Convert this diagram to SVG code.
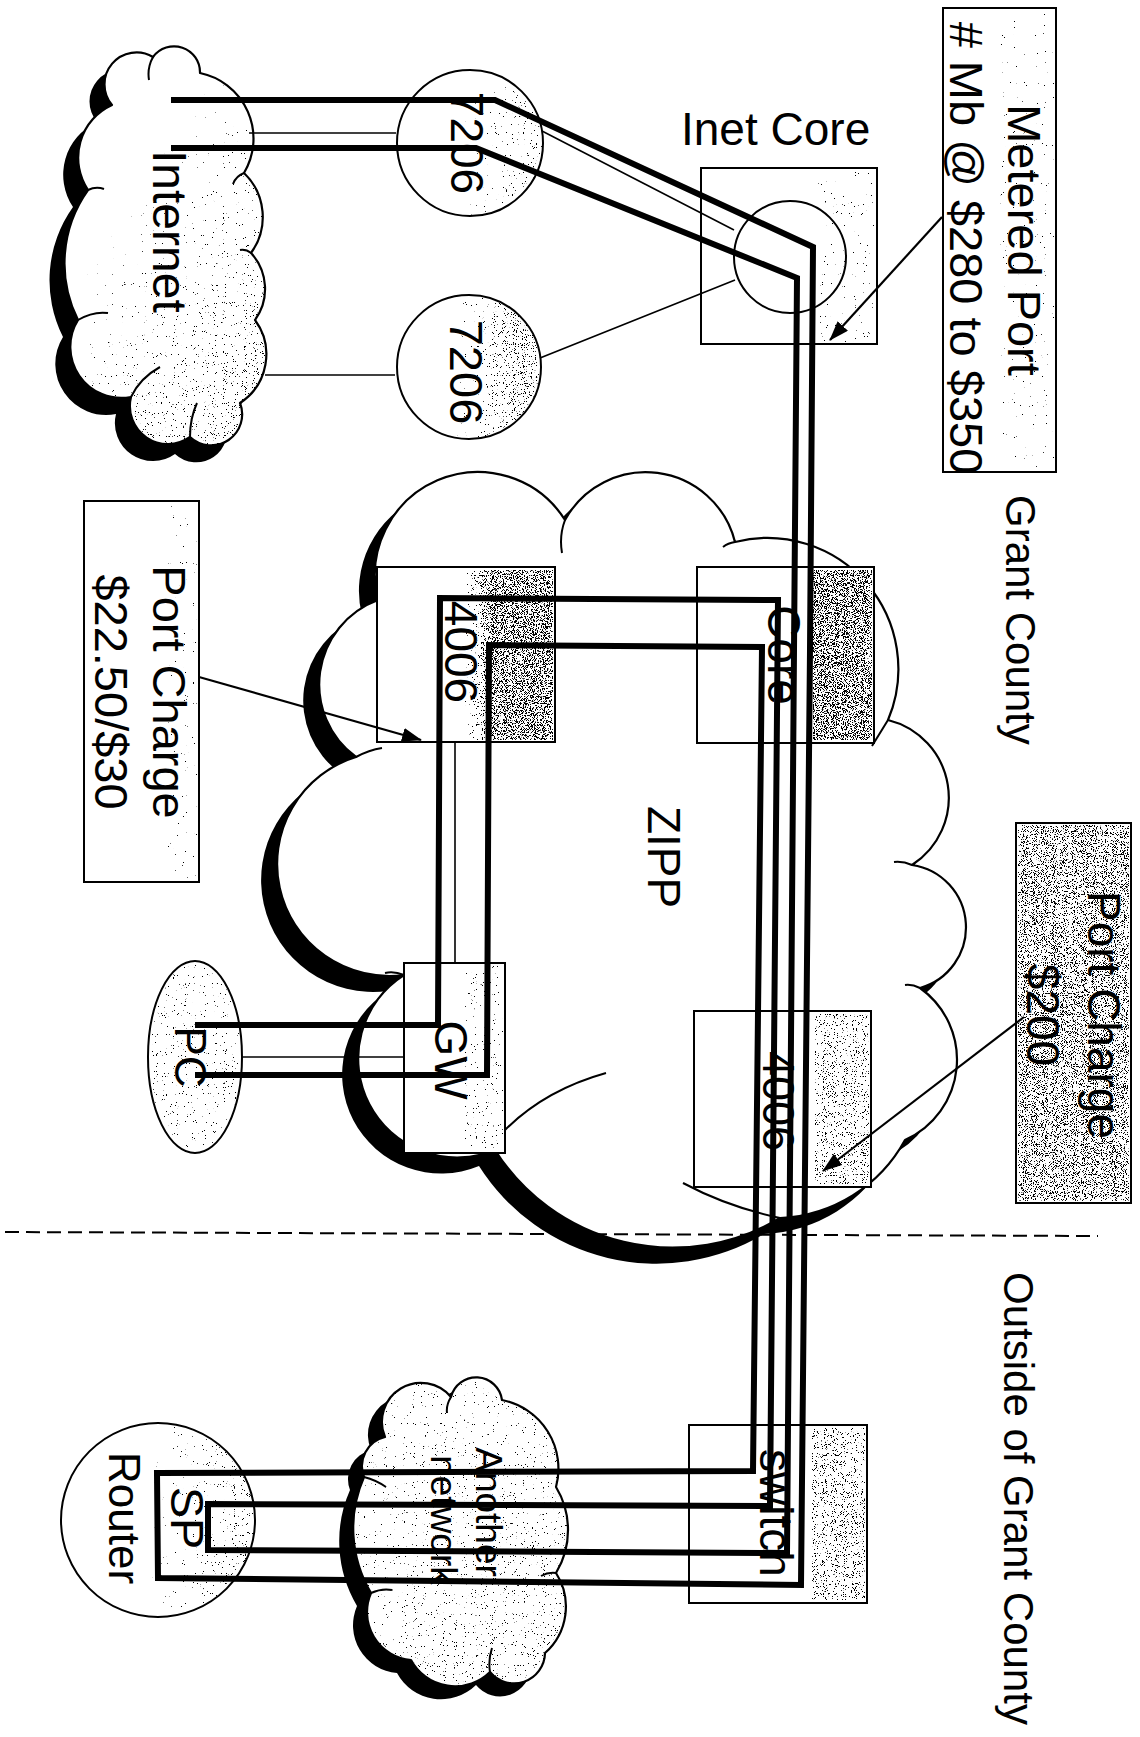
<svg xmlns="http://www.w3.org/2000/svg" width="1140" height="1737" viewBox="0 0 1140 1737">
<defs>
<style>
.t{font-family:"Liberation Sans",Arial,Helvetica,sans-serif;fill:#000}
.bx{fill:#fff;stroke:#000;stroke-width:2}
.cl{fill:#fff;stroke:#000;stroke-width:2.2;stroke-linejoin:round}
.sh{fill:#000}
.hk{fill:none;stroke:#000;stroke-width:2}
.tk{fill:none;stroke:#000;stroke-width:6;stroke-linejoin:miter}
.tn{fill:none;stroke:#000;stroke-width:1.6}
.ar{fill:none;stroke:#000;stroke-width:2.2;marker-end:url(#ah)}
.dash{fill:none;stroke:#000;stroke-width:2;stroke-dasharray:14 7}
</style>
<filter id="stip" x="0" y="0" width="1" height="1" color-interpolation-filters="sRGB">
<feTurbulence type="fractalNoise" baseFrequency="1.1" numOctaves="2" seed="4" result="t"/>
<feColorMatrix in="t" type="matrix" values="0 0 0 0 0  0 0 0 0 0  0 0 0 0 0  1.667 0 0 0 -0.333" result="n"/>
<feComposite in="SourceGraphic" in2="n" operator="arithmetic" k1="0" k2="20" k3="-20" k4="0"/>
</filter>
<linearGradient id="gR" x1="0" y1="0" x2="1" y2="0"><stop offset="0.45" stop-opacity="0"/><stop offset="1" stop-opacity="0.2"/></linearGradient>
<linearGradient id="gR2" x1="0" y1="0" x2="1" y2="0"><stop offset="0.4" stop-opacity="0"/><stop offset="0.85" stop-opacity="0.3"/><stop offset="1" stop-opacity="0.26"/></linearGradient>
<linearGradient id="gInt" x1="0.5" y1="0.25" x2="1" y2="0.9"><stop offset="0" stop-opacity="0"/><stop offset="1" stop-opacity="0.24"/></linearGradient>
<linearGradient id="g4006" x1="0" y1="0" x2="1" y2="0"><stop offset="0" stop-opacity="0.08"/><stop offset="0.3" stop-opacity="0.45"/><stop offset="1" stop-opacity="0.45"/></linearGradient>
<linearGradient id="gAn" x1="0" y1="0" x2="1" y2="1"><stop offset="0" stop-opacity="0.08"/><stop offset="1" stop-opacity="0.18"/></linearGradient>
<clipPath id="cMet"><rect x="943" y="8" width="113" height="464"/></clipPath>
<marker id="ah" viewBox="0 0 20 14" refX="19" refY="7" markerWidth="20" markerHeight="14" markerUnits="userSpaceOnUse" orient="auto"><path d="M0,0 L20,7 L0,14 z" fill="#000"/></marker>
</defs>
<rect width="1140" height="1737" fill="#fff"/>

<g id="internet">
<path class="sh" transform="translate(-15,17)" d="M112,105 A32,32 0 0 1 153,57 A26,26 0 0 1 200,73 A67,67 0 0 1 244,173 A61,61 0 0 1 251,253 A53,53 0 0 1 255,320 A58,58 0 0 1 240,403 A31,31 0 0 1 190,437 A38,38 0 0 1 131,397 A51,51 0 0 1 78,320 A126,126 0 0 1 88,190 A58,58 0 0 1 112,105 Z"/>
<path class="cl" d="M112,105 A32,32 0 0 1 153,57 A26,26 0 0 1 200,73 A67,67 0 0 1 244,173 A61,61 0 0 1 251,253 A53,53 0 0 1 255,320 A58,58 0 0 1 240,403 A31,31 0 0 1 190,437 A38,38 0 0 1 131,397 A51,51 0 0 1 78,320 A126,126 0 0 1 88,190 A58,58 0 0 1 112,105 Z"/>
<path fill="url(#gInt)" filter="url(#stip)" d="M112,105 A32,32 0 0 1 153,57 A26,26 0 0 1 200,73 A67,67 0 0 1 244,173 A61,61 0 0 1 251,253 A53,53 0 0 1 255,320 A58,58 0 0 1 240,403 A31,31 0 0 1 190,437 A38,38 0 0 1 131,397 A51,51 0 0 1 78,320 A126,126 0 0 1 88,190 A58,58 0 0 1 112,105 Z"/>
<path class="hk" d="M153,57 Q147,68 149,80 M88,190 Q96,186 104,189 M78,320 Q93,311 108,313 M131,397 Q140,378 160,367 M190,437 Q190,418 197,403 M244,173 Q236,176 233,184 M251,253 Q246,249 240,250"/>
<text class="t" font-size="48" transform="translate(153,150) rotate(90)">Internet</text>
</g>

<g id="r7206a">
<circle class="bx" cx="470" cy="143" r="73"/>
<circle cx="470" cy="143" r="72" fill="url(#gR)" filter="url(#stip)"/>
<text class="t" font-size="46" text-anchor="middle" transform="translate(451,143) rotate(90)">7206</text>
</g>

<g id="r7206b">
<circle class="bx" cx="469" cy="367" r="72"/>
<circle cx="469" cy="367" r="71" fill="url(#gR2)" filter="url(#stip)"/>
<text class="t" font-size="47" text-anchor="middle" transform="translate(450,372) rotate(90)">7206</text>
</g>

<g id="inetcore">
<rect class="bx" x="701" y="168" width="176" height="176"/>
<rect x="818" y="172" width="56" height="170" fill="#000" fill-opacity="0.08" filter="url(#stip)"/>
<circle cx="790" cy="257" r="56" fill="none" stroke="#000" stroke-width="2"/>
<text class="t" font-size="46" x="681" y="145">Inet Core</text>
</g>

<g id="metered">
<rect class="bx" x="943" y="8" width="113" height="464"/>
<rect x="1000" y="12" width="54" height="456" fill="#000" fill-opacity="0.05" filter="url(#stip)"/>
<g clip-path="url(#cMet)">
<text class="t" font-size="47" text-anchor="middle" transform="translate(1008,240) rotate(90)">Metered Port</text>
<text class="t" font-size="47" text-anchor="middle" transform="translate(950,248) rotate(90)"># Mb @ $280 to $350</text>
</g>
</g>

<g id="grant">
<text class="t" font-size="42" transform="translate(1006,495) rotate(90)">Grant County</text>
</g>

<g id="zipp">
<path class="sh" transform="translate(-16,16)" d="M378,600 A103,103 0 0 1 565,520 A92,92 0 0 1 735,542 A131,131 0 0 1 888,720 A80,80 0 0 1 912,865 A63,63 0 0 1 920,988 A88,88 0 0 1 905,1140 A150,150 0 0 1 780,1218 A210,210 0 0 1 495,1150 A99,99 0 0 1 404,975 A112,112 0 0 1 356,757 A90,90 0 0 1 378,600 Z"/>
<path class="cl" d="M378,600 A103,103 0 0 1 565,520 A92,92 0 0 1 735,542 A131,131 0 0 1 888,720 A80,80 0 0 1 912,865 A63,63 0 0 1 920,988 A88,88 0 0 1 905,1140 A150,150 0 0 1 780,1218 A210,210 0 0 1 495,1150 A99,99 0 0 1 404,975 A112,112 0 0 1 356,757 A90,90 0 0 1 378,600 Z"/>
<path class="hk" d="M565,520 Q559,536 562,553 M735,542 Q728,543 723,547 M888,720 Q880,733 872,746 M912,865 Q903,861 894,862 M920,988 Q912,984 905,985 M505,1130 Q545,1090 606,1073 M780,1218 Q728,1207 683,1183 M356,757 Q369,750 382,748 M404,975 Q394,971 385,973"/>
<text class="t" font-size="46" text-anchor="middle" transform="translate(648,857) rotate(90)">ZIPP</text>
</g>

<g id="n4006a">
<rect class="bx" x="377" y="567" width="178" height="175"/>
<rect x="465" y="570" width="88" height="170" fill="url(#g4006)" filter="url(#stip)"/>
<text class="t" font-size="46" text-anchor="middle" transform="translate(445,652) rotate(90)">4006</text>
</g>

<g id="core">
<rect class="bx" x="697" y="567" width="177" height="176"/>
<rect x="813" y="570" width="59" height="170" fill="#000" fill-opacity="0.46" filter="url(#stip)"/>
<text class="t" font-size="46" text-anchor="middle" transform="translate(768,655) rotate(90)">Core</text>
</g>

<g id="gw">
<rect class="bx" x="404" y="963" width="101" height="190"/>
<rect x="465" y="966" width="38" height="184" fill="#000" fill-opacity="0.12" filter="url(#stip)"/>
<text class="t" font-size="46" text-anchor="middle" transform="translate(435,1060) rotate(90)">GW</text>
</g>

<g id="pc">
<ellipse class="bx" cx="195" cy="1057" rx="47" ry="96"/>
<ellipse cx="195" cy="1057" rx="46" ry="95" fill="#000" fill-opacity="0.13" filter="url(#stip)"/>
<text class="t" font-size="44" text-anchor="middle" transform="translate(175,1057) rotate(90)">PC</text>
</g>

<g id="n4006b">
<rect class="bx" x="694" y="1011" width="177" height="176"/>
<rect x="815" y="1014" width="54" height="170" fill="#000" fill-opacity="0.26" filter="url(#stip)"/>
<text class="t" font-size="45" text-anchor="middle" transform="translate(763,1101) rotate(90)">4006</text>
</g>

<g id="pc2250">
<rect class="bx" x="84" y="501" width="115" height="381"/>
<rect x="168" y="505" width="29" height="373" fill="#000" fill-opacity="0.05" filter="url(#stip)"/>
<text class="t" font-size="47" text-anchor="middle" transform="translate(153,692) rotate(90)">Port Charge</text>
<text class="t" font-size="47" text-anchor="middle" transform="translate(95,692) rotate(90)">$22.50/$30</text>
</g>

<g id="pc200">
<rect class="bx" x="1016" y="823" width="115" height="380"/>
<rect x="1018" y="825" width="111" height="376" fill="#000" fill-opacity="0.38" filter="url(#stip)"/>
<text class="t" font-size="46" text-anchor="middle" transform="translate(1088,1015) rotate(90)">Port Charge</text>
<text class="t" font-size="46" text-anchor="middle" transform="translate(1027,1015) rotate(90)">$200</text>
</g>

<g id="boundary">
<path class="dash" d="M5,1232 L1098,1236"/>
<text class="t" font-size="42" transform="translate(1004,1272) rotate(90)">Outside of Grant County</text>
</g>

<g id="switch">
<rect class="bx" x="689" y="1425" width="178" height="178"/>
<rect x="812" y="1428" width="53" height="172" fill="#000" fill-opacity="0.27" filter="url(#stip)"/>
<text class="t" font-size="46" text-anchor="middle" transform="translate(760,1513) rotate(90)">switch</text>
</g>

<g id="another">
<path class="sh" transform="translate(-14,13)" d="M385,1437 A39,39 0 0 1 451,1397 A26,26 0 0 1 502,1400 A70,70 0 0 1 556,1487 A83,83 0 0 1 556,1573 A62,62 0 0 1 545,1653 A31,31 0 0 1 490,1672 A50,50 0 0 1 411,1660 A48,48 0 0 1 371,1593 A127,127 0 0 1 364,1477 A30,30 0 0 1 385,1437 Z"/>
<path class="cl" d="M385,1437 A39,39 0 0 1 451,1397 A26,26 0 0 1 502,1400 A70,70 0 0 1 556,1487 A83,83 0 0 1 556,1573 A62,62 0 0 1 545,1653 A31,31 0 0 1 490,1672 A50,50 0 0 1 411,1660 A48,48 0 0 1 371,1593 A127,127 0 0 1 364,1477 A30,30 0 0 1 385,1437 Z"/>
<path fill="url(#gAn)" filter="url(#stip)" d="M385,1437 A39,39 0 0 1 451,1397 A26,26 0 0 1 502,1400 A70,70 0 0 1 556,1487 A83,83 0 0 1 556,1573 A62,62 0 0 1 545,1653 A31,31 0 0 1 490,1672 A50,50 0 0 1 411,1660 A48,48 0 0 1 371,1593 A127,127 0 0 1 364,1477 A30,30 0 0 1 385,1437 Z"/>
<path class="hk" d="M451,1397 Q446,1405 447,1413 M364,1477 Q376,1480 386,1487 M371,1593 Q382,1588 392,1590 M490,1672 Q488,1660 492,1648 M556,1573 Q548,1572 541,1576"/>
<text class="t" font-size="37" text-anchor="middle" transform="translate(476,1512) rotate(90)">Another</text>
<text class="t" font-size="37" text-anchor="middle" transform="translate(431,1520) rotate(90)">network</text>
</g>

<g id="sprouter">
<circle class="bx" cx="158" cy="1520" r="97"/>
<circle cx="158" cy="1520" r="96" fill="url(#gR)" filter="url(#stip)"/>
<text class="t" font-size="47" text-anchor="middle" transform="translate(171,1518) rotate(90)">SP</text>
<text class="t" font-size="44" text-anchor="middle" transform="translate(109,1518) rotate(90)">Router</text>
</g>

<g id="connectors">
<path class="tk" d="M171,100 L495,100 L813,247 L810,650 L801,1585 L158,1578 L157,1473 L753,1471 L762,647 L489,645 L487,1075 L195,1075"/>
<path class="tk" d="M171,148 L476,148 L797,278 L794,650 L787,1553 L208,1550 L208,1504 L770,1506 L778,600 L440,598 L438,1025 L195,1025"/>
<path class="tn" d="M249,133 L396,133"/>
<path class="tn" d="M542,131 L734,230"/>
<path class="tn" d="M265,375 L395,375"/>
<path class="tn" d="M540,358 L735,280"/>
<path class="tn" d="M455,742 L455,963"/>
<path class="tn" d="M242,1057 L404,1057"/>
<path class="ar" d="M942,217 L830,340"/>
<path class="ar" d="M199,677 L421,740"/>
<path class="ar" d="M1024,1017 L823,1171"/>
</g>
</svg>
